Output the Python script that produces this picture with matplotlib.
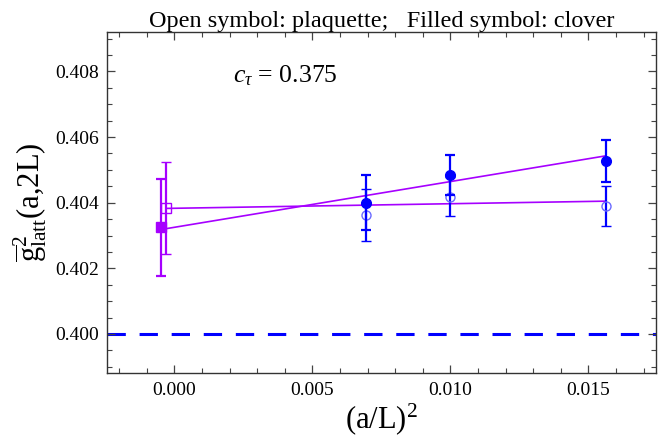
import numpy as np
import matplotlib
matplotlib.use("Agg")
import matplotlib.pyplot as plt

plt.rcParams['font.family'] = ['Liberation Serif', 'DejaVu Serif']
plt.rcParams['mathtext.fontset'] = 'custom'
plt.rcParams['mathtext.rm'] = 'Liberation Serif'
plt.rcParams['mathtext.it'] = 'Liberation Serif:italic'

# (a/L)^2 for L/a = 12, 10, 8
x_latt = [1/144, 1/100, 1/64]
clover = [0.40400, 0.40484, 0.40527]
clover_err = [0.00084, 0.00062, 0.00064]
plaq = [0.40363, 0.40418, 0.40390]
plaq_err = [0.00079, 0.00059, 0.00062]

# continuum values (drawn slightly left of zero)
x_cont_clover = -0.0005
cont_clover = 0.40325
cont_clover_err = 0.00148
x_cont_plaq = -0.0003
cont_plaq = 0.40383
cont_plaq_err = 0.00140

# linear fits: intercept, slope
fit_clover = (0.40325, 0.1394)
fit_plaq = (0.40383, 0.0139)

blue = '#0000ff'
purple = '#a600ff'

fig, ax = plt.subplots(figsize=(6.58, 4.46), dpi=100)
fig.subplots_adjust(left=0.163, right=0.997, bottom=0.163, top=0.928)

ax.axhline(0.400, color=blue, lw=2.2, dashes=(6, 4.5), zorder=1)

xf = np.array([x_cont_clover, x_latt[-1]])
ax.plot(xf, fit_clover[0] + fit_clover[1]*xf, color=purple, lw=1.2, zorder=2)
xf = np.array([x_cont_plaq, x_latt[-1]])
ax.plot(xf, fit_plaq[0] + fit_plaq[1]*xf, color=purple, lw=1.2, zorder=2)

ax.errorbar(x_latt, plaq, yerr=plaq_err, fmt='o', ms=6.5, mfc='none', mec='#6a6aff',
            mew=1.0, ecolor=blue, elinewidth=1.6, capsize=3.5, capthick=1.6, zorder=3)
ax.errorbar(x_latt, clover, yerr=clover_err, fmt='o', ms=7, color=blue,
            ecolor=blue, elinewidth=1.6, capsize=3.5, capthick=1.6, zorder=4)

ax.errorbar([x_cont_plaq], [cont_plaq], yerr=[cont_plaq_err], fmt='s', ms=6.5, mfc='none',
            mec=purple, mew=1.0, ecolor=purple, elinewidth=1.6, capsize=3.5, capthick=1.6, zorder=3)
ax.errorbar([x_cont_clover], [cont_clover], yerr=[cont_clover_err], fmt='s', ms=7.5, color=purple,
            ecolor=purple, elinewidth=1.6, capsize=3.5, capthick=1.6, zorder=4)

ax.set_xlim(-0.00243, 0.01745)
ax.set_ylim(0.39880, 0.40920)
ax.set_xticks([0.000, 0.005, 0.010, 0.015])
ax.set_xticks(np.arange(-0.002, 0.0175, 0.001), minor=True)
ax.set_yticks([0.400, 0.402, 0.404, 0.406, 0.408])
ax.set_yticks(np.arange(0.399, 0.4092, 0.0005), minor=True)
ax.xaxis.set_major_formatter(matplotlib.ticker.FormatStrFormatter('%.3f'))
ax.yaxis.set_major_formatter(matplotlib.ticker.FormatStrFormatter('%.3f'))
ax.tick_params(which='both', direction='in', top=True, right=True, labelsize=14, color='#444444')
ax.tick_params(which='major', length=6, width=0.9, pad=6)
ax.tick_params(which='minor', length=3.5, width=0.8)
for s in ax.spines.values():
    s.set_color('#333333')
    s.set_linewidth(1.0)

ax.set_xlabel(r'(a/L)$^2$', fontsize=22, labelpad=2)
ax.set_ylabel(r'$\overline{\mathrm{g}}^{2}_{\mathrm{latt}}(\mathrm{a{,}2L})$', fontsize=22, labelpad=4)
ax.set_title('Open symbol: plaquette;   Filled symbol: clover', fontsize=17.5, pad=3)
ax.text(0.00214, 0.40788, r'$c_\tau$ = 0.375', fontsize=18.5, va='center', ha='left')

fig.savefig('out.png', dpi=100)
